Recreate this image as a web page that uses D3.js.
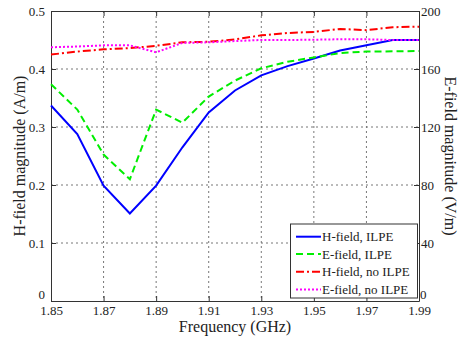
<!DOCTYPE html>
<html><head><meta charset="utf-8">
<script src="https://cdn.jsdelivr.net/npm/d3@7"></script>
<style>body{margin:0;background:#fff}svg{display:block}svg text{font-family:"Liberation Serif","Times New Roman",serif !important;fill:#222}</style>
</head><body><svg id="c" width="458" height="341"></svg>
<script>
const freq = [1.85,1.86,1.87,1.88,1.89,1.90,1.91,1.92,1.93,1.94,1.95,1.96,1.97,1.98,1.99];
const hILPE = [0.337,0.288,0.199,0.151,0.199,0.265,0.325,0.363,0.389,0.405,0.418,0.432,0.441,0.450,0.450];
const eILPE = [149.5,132,101,84,132,123,141,152,160.5,165,168,171,172,172.2,172.4];
const hNoILPE = [0.425,0.430,0.434,0.436,0.440,0.446,0.447,0.451,0.458,0.462,0.464,0.469,0.467,0.472,0.473];
const eNoILPE = [175,175.5,176.3,176.3,171.5,178,178.4,179.3,180,180,180.2,180.5,180.5,180,180];
const xTicks = [1.85,1.87,1.89,1.91,1.93,1.95,1.97,1.99];
const yLeftTicks = [0,0.1,0.2,0.3,0.4,0.5];
const yRightTicks = [0,40,80,120,160,200];
const legendLabels = ["H-field, ILPE","E-field, ILPE","H-field, no ILPE","E-field, no ILPE"];

const svg = d3.select("#c");
const L=51,R=419,T=11,B=301;
const x = d3.scaleLinear().domain([1.85,1.99]).range([L,R]);
const yL = d3.scaleLinear().domain([0,0.5]).range([B,T]);
const yR = d3.scaleLinear().domain([0,200]).range([B,T]);

// grid
const g = svg.append("g");
g.selectAll(".gx").data(xTicks.slice(1,-1)).enter().append("line")
 .attr("x1",d=>x(d)).attr("x2",d=>x(d)).attr("y1",T).attr("y2",B)
 .attr("stroke","#777").attr("stroke-width",1).attr("stroke-dasharray","2,3");
g.selectAll(".gy").data(yLeftTicks.slice(1,-1)).enter().append("line")
 .attr("y1",d=>yL(d)).attr("y2",d=>yL(d)).attr("x1",L).attr("x2",R)
 .attr("stroke","#777").attr("stroke-width",1).attr("stroke-dasharray","2,3");

// axes
const ax = svg.append("g").attr("transform",`translate(0,${B})`)
 .call(d3.axisBottom(x).tickValues(xTicks).tickFormat(d3.format(".2f")).tickSizeInner(-5).tickSizeOuter(0).tickPadding(5));
const axT = svg.append("g").attr("transform",`translate(0,${T})`)
 .call(d3.axisTop(x).tickValues(xTicks).tickFormat("").tickSizeInner(-5).tickSizeOuter(0));
const ayl = svg.append("g").attr("transform",`translate(${L},0)`)
 .call(d3.axisLeft(yL).tickValues(yLeftTicks).tickFormat(d=>d===0?"0":d3.format(".1f")(d)).tickSizeInner(-5).tickSizeOuter(0).tickPadding(6));
const ayr = svg.append("g").attr("transform",`translate(${R},0)`)
 .call(d3.axisRight(yR).tickValues(yRightTicks).tickFormat(d3.format("d")).tickSizeInner(-5).tickSizeOuter(0).tickPadding(2));
[ax,axT,ayl,ayr].forEach(a=>{
  a.attr("font-family",null);
  a.select(".domain").attr("stroke","#333");
  a.selectAll(".tick line").attr("stroke","#333");
  a.selectAll("text").attr("font-size",13).attr("fill","#222");
});
ayl.selectAll(".tick").filter(d=>d===0).select("text").attr("dy","-0.2em");
ayr.selectAll(".tick").filter(d=>d===0).select("text").attr("dy","-0.2em").attr("x",1);

// series
const lineL = d3.line().x((d,i)=>x(freq[i])).y(d=>yL(d));
const lineR = d3.line().x((d,i)=>x(freq[i])).y(d=>yR(d));
const series = [
 {data:hILPE,gen:lineL,color:"#0000ff",dash:null},
 {data:eILPE,gen:lineR,color:"#00ee00",dash:"7,4"},
 {data:hNoILPE,gen:lineL,color:"#ff0000",dash:"8,3,2,3"},
 {data:eNoILPE,gen:lineR,color:"#ff00ff",dash:"2,2"}
];
series.forEach(s=>{
  svg.append("path").attr("d",s.gen(s.data)).attr("fill","none")
   .attr("stroke",s.color).attr("stroke-width",2).attr("stroke-dasharray",s.dash);
});

// labels
svg.append("text").attr("x",(L+R)/2).attr("y",332).attr("text-anchor","middle").attr("font-size",16).text("Frequency (GHz)");
svg.append("text").attr("transform",`translate(25,${(T+B)/2}) rotate(-90)`).attr("text-anchor","middle").attr("font-size",16).text("H-field magnitude (A/m)");
svg.append("text").attr("transform",`translate(445,${(T+B)/2}) rotate(90)`).attr("text-anchor","middle").attr("font-size",16).text("E-field magnitude (V/m)");

// legend
const lg = svg.append("g");
lg.append("rect").attr("x",290.5).attr("y",224).attr("width",127).attr("height",74).attr("fill","#fff").attr("stroke","#333");
const ly = [236.7,254,271.7,289.5];
series.forEach((s,i)=>{
  lg.append("line").attr("x1",296).attr("x2",321).attr("y1",ly[i]).attr("y2",ly[i])
   .attr("stroke",s.color).attr("stroke-width",2).attr("stroke-dasharray",s.dash);
  lg.append("text").attr("x",322).attr("y",ly[i]+4.5).attr("font-size",13).text(legendLabels[i]);
});
</script></body></html>
